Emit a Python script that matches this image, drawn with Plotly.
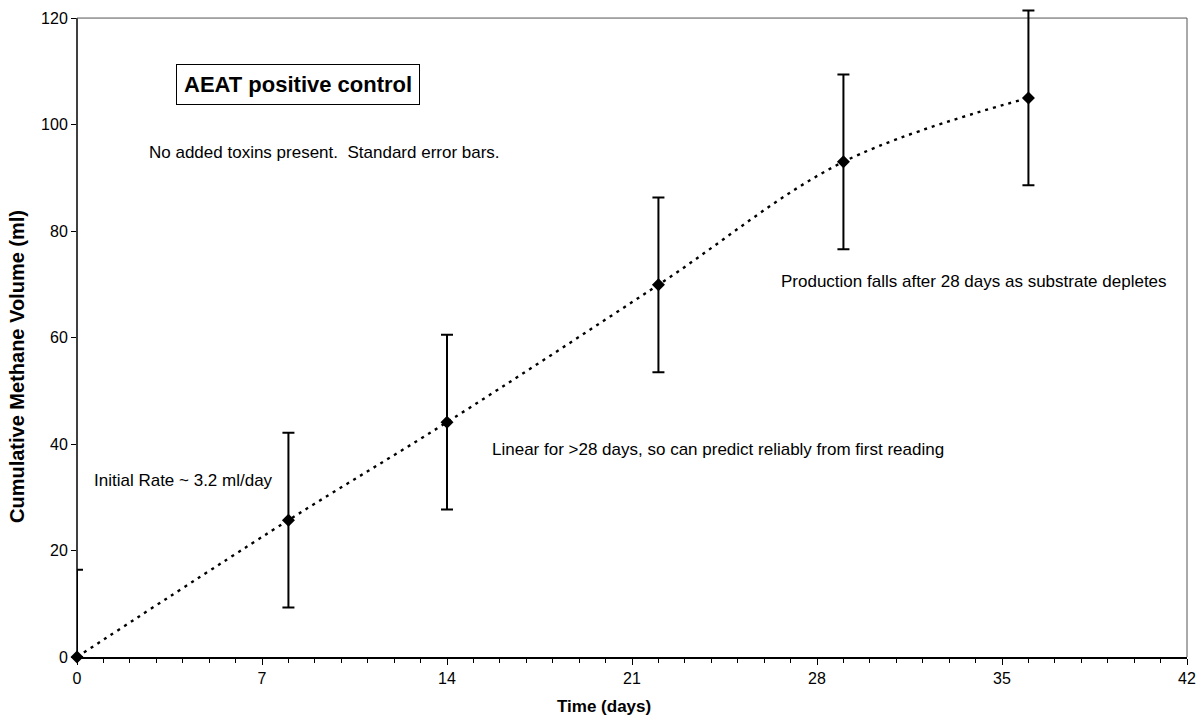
import plotly.graph_objects as go

days = [0, 8, 14, 22, 29, 36]
methane = [0, 25.7, 44.1, 69.9, 93.0, 105.0]
err_plus = [16.4, 16.4, 16.4, 16.4, 16.4, 16.4]
err_minus = [0, 16.4, 16.4, 16.4, 16.4, 16.4]

x_ticks = [0, 7, 14, 21, 28, 35, 42]
y_ticks = [0, 20, 40, 60, 80, 100, 120]
Y_MAX = 120
Y_VIEW = 121.7  # a little headroom so the last error bar can poke above the frame

FONT = "Liberation Sans, Arial, sans-serif"

fig = go.Figure()
fig.add_trace(go.Scatter(
    x=days, y=methane, mode="lines+markers",
    line=dict(color="black", width=2.4, dash="3px,5px", shape="spline", smoothing=1.0),
    marker=dict(symbol="diamond", size=10, color="black"),
    error_y=dict(type="data", symmetric=False, array=err_plus, arrayminus=err_minus,
                 color="black", thickness=2, width=6),
    cliponaxis=False,
    showlegend=False,
))

fig.update_layout(
    width=1200, height=716,
    margin=dict(l=77, r=13, t=9, b=59),
    paper_bgcolor="white", plot_bgcolor="white",
    font=dict(family=FONT, size=16, color="black"),
    xaxis=dict(
        range=[0, 42], tickvals=x_ticks, ticks="outside", ticklen=6,
        tickwidth=1, tickcolor="black", showline=True, linecolor="black", linewidth=1.5,
        showgrid=False, zeroline=False, automargin=False,
        tickfont=dict(size=16),
        minor=dict(tickmode="linear", tick0=0, dtick=1, ticks="outside", ticklen=4,
                   tickcolor="black", showgrid=False),
    ),
    yaxis=dict(
        range=[0, Y_VIEW], tickvals=y_ticks, ticks="outside", ticklen=5, tickwidth=1,
        tickcolor="black", showline=False, showgrid=False, zeroline=False,
        automargin=False, tickfont=dict(size=16),
    ),
)

# left axis line up to 120, thin frame on top and right
fig.add_shape(type="line", xref="paper", yref="y", x0=0, x1=0, y0=0, y1=Y_MAX,
              line=dict(color="black", width=1.5), layer="below")
fig.add_shape(type="line", xref="paper", yref="y", x0=0, x1=1, y0=Y_MAX, y1=Y_MAX,
              line=dict(color="#555555", width=1), layer="below")
fig.add_shape(type="line", xref="paper", yref="y", x0=1, x1=1, y0=0, y1=Y_MAX,
              line=dict(color="#555555", width=1), layer="below")

PLOT_L, PLOT_R = 77, 1187
PLOT_T = 9
PLOT_B = 657

def px2paper(px, py):
    return (px - PLOT_L) / (PLOT_R - PLOT_L), (PLOT_B - py) / (PLOT_B - PLOT_T)

# axis titles (placed where the reference puts them)
tx, ty = px2paper(604, 707)
fig.add_annotation(x=tx, y=ty, xref="paper", yref="paper", showarrow=False,
                   xanchor="center", yanchor="middle",
                   text="<b>Time (days)</b>", font=dict(size=17))
tx, ty = px2paper(17, 367)
fig.add_annotation(x=tx, y=ty, xref="paper", yref="paper", showarrow=False,
                   xanchor="center", yanchor="middle", textangle=-90,
                   text="<b>Cumulative Methane Volume (ml)</b>", font=dict(size=20))

ax, ay = px2paper(298, 85)
fig.add_annotation(x=ax, y=ay, xref="paper", yref="paper", showarrow=False,
                   xanchor="center", yanchor="middle",
                   text="<b>AEAT positive control</b>", font=dict(size=22),
                   bordercolor="black", borderwidth=1, borderpad=7, bgcolor="white")

notes = [
    (147, 152, "No added toxins present.  Standard error bars."),
    (92, 480, "Initial Rate ~ 3.2 ml/day"),
    (490, 449, "Linear for >28 days, so can predict reliably from first reading"),
    (779, 281, "Production falls after 28 days as substrate depletes"),
]
for px, py, t in notes:
    nx, ny = px2paper(px, py)
    fig.add_annotation(x=nx, y=ny, xref="paper", yref="paper", showarrow=False,
                       xanchor="left", yanchor="middle", text=t, font=dict(size=17))

fig.write_html("out.html", config={"displayModeBar": False},
               post_script="document.body.style.margin='0';document.body.style.overflow='hidden';")
